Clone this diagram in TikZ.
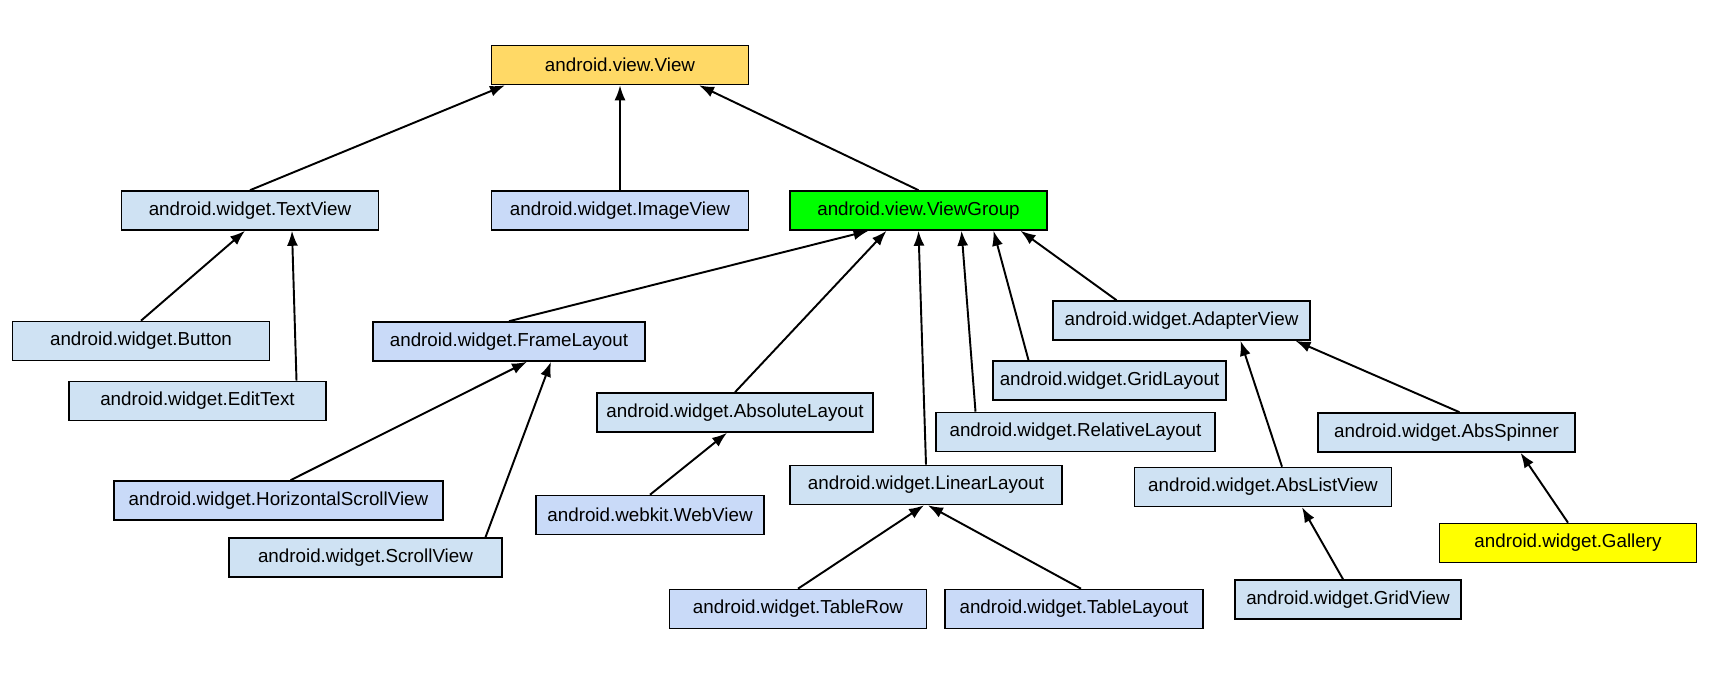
\documentclass[tikz,border=0pt]{standalone}
\usepackage{fontspec}
\setmainfont{Liberation Sans}
\usepackage{tikz}
\usetikzlibrary{positioning,calc,arrows.meta}
\definecolor{viewyellow}{RGB}{255,217,102}
\definecolor{groupgreen}{RGB}{0,255,0}
\definecolor{galleryyellow}{RGB}{255,255,0}
\definecolor{widgetblue}{RGB}{207,226,243}
\definecolor{widgetlav}{RGB}{201,218,248}

\begin{document}
\begin{tikzpicture}[->,>={Latex[length=3mm,width=2.2mm]},line width=1.1pt,
                class node/.style={rectangle,draw,line width=0.9pt,fill=widgetblue,
                  minimum width=5.14cm,minimum height=0.78cm,inner sep=0pt,
                  font=\fontsize{10.7}{12}\selectfont}]
\useasboundingbox (0,0) rectangle (34.42,13.48);
%Nodes
    \node[class node, fill=viewyellow] (View) at (12.40,12.18) {android.view.View};
    \node[class node] (TextView) at (5.00,9.27) {android.widget.TextView};
    \node[class node, fill=widgetlav] (ImageView) at (12.40,9.27) {android.widget.ImageView};
    \node[class node, fill=groupgreen] (ViewGroup) at (18.37,9.27) {android.view.ViewGroup};
    \node[class node] (Button) at (2.82,6.66) {android.widget.Button};
    \node[class node] (EditText) at (3.95,5.46) {android.widget.EditText};
    \node[class node, fill=widgetlav, minimum width=5.44cm] (FrameLayout) at (10.18,6.65) {android.widget.FrameLayout};
    \node[class node, minimum width=5.52cm] (AbsoluteLayout) at (14.70,5.23) {android.widget.AbsoluteLayout};
    \node[class node, fill=widgetlav, minimum width=4.56cm] (WebView) at (13.00,3.18) {android.webkit.WebView};
    \node[class node, fill=widgetlav, minimum width=6.58cm] (HScrollView) at (5.57,3.47) {android.widget.HorizontalScrollView};
    \node[class node, minimum width=5.46cm] (ScrollView) at (7.31,2.33) {android.widget.ScrollView};
    \node[class node, minimum width=5.44cm] (LinearLayout) at (18.52,3.78) {android.widget.LinearLayout};
    \node[class node, fill=widgetlav] (TableRow) at (15.96,1.30) {android.widget.TableRow};
    \node[class node, fill=widgetlav, minimum width=5.16cm] (TableLayout) at (21.48,1.30) {android.widget.TableLayout};
    \node[class node, minimum width=4.66cm] (GridLayout) at (22.19,5.87) {android.widget.GridLayout};
    \node[class node, minimum width=5.58cm] (RelativeLayout) at (21.51,4.84) {android.widget.RelativeLayout};
    \node[class node] (AdapterView) at (23.63,7.07) {android.widget.AdapterView};
    \node[class node] (AbsListView) at (25.26,3.74) {android.widget.AbsListView};
    \node[class node] (AbsSpinner) at (28.93,4.83) {android.widget.AbsSpinner};
    \node[class node, minimum width=4.52cm] (GridView) at (26.96,1.49) {android.widget.GridView};
    \node[class node, fill=galleryyellow] (Gallery) at (31.36,2.62) {android.widget.Gallery};

%Edges
    \draw (TextView.north) -- ($(View.south)+(-2.30,0)$);
    \draw (ImageView.north) -- (View.south);
    \draw (ViewGroup.north) -- ($(View.south)+(1.58,0)$);
    \draw (Button.north) -- ($(TextView.south)+(-0.10,0)$);
    \draw ($(EditText.north)+(1.98,0)$) -- ($(TextView.south)+(0.84,0)$);
    \draw (FrameLayout.north) -- ($(ViewGroup.south)+(-1.00,0)$);
    \draw (AbsoluteLayout.north) -- ($(ViewGroup.south)+(-0.64,0)$);
    \draw (LinearLayout.north) -- (ViewGroup.south);
    \draw ($(RelativeLayout.north)+(-2.00,0)$) -- ($(ViewGroup.south)+(0.86,0)$);
    \draw ($(GridLayout.north)+(-1.62,0)$) -- ($(ViewGroup.south)+(1.50,0)$);
    \draw ($(AdapterView.north)+(-1.30,0)$) -- ($(ViewGroup.south)+(2.04,0)$);
    \draw ($(HScrollView.north)+(0.24,0)$) -- ($(FrameLayout.south)+(0.36,0)$);
    \draw ($(ScrollView.north)+(2.40,0)$) -- ($(FrameLayout.south)+(0.84,0)$);
    \draw (WebView.north) -- ($(AbsoluteLayout.south)+(-0.16,0)$);
    \draw (TableRow.north) -- ($(LinearLayout.south)+(-0.04,0)$);
    \draw ($(TableLayout.north)+(0.14,0)$) -- ($(LinearLayout.south)+(0.04,0)$);
    \draw ($(AbsListView.north)+(0.38,0)$) -- ($(AdapterView.south)+(1.18,0)$);
    \draw ($(AbsSpinner.north)+(0.26,0)$) -- ($(AdapterView.south)+(2.28,0)$);
    \draw ($(GridView.north)+(-0.10,0)$) -- ($(AbsListView.south)+(0.78,0)$);
    \draw (Gallery.north) -- ($(AbsSpinner.south)+(1.48,0)$);
\end{tikzpicture}
\end{document}
